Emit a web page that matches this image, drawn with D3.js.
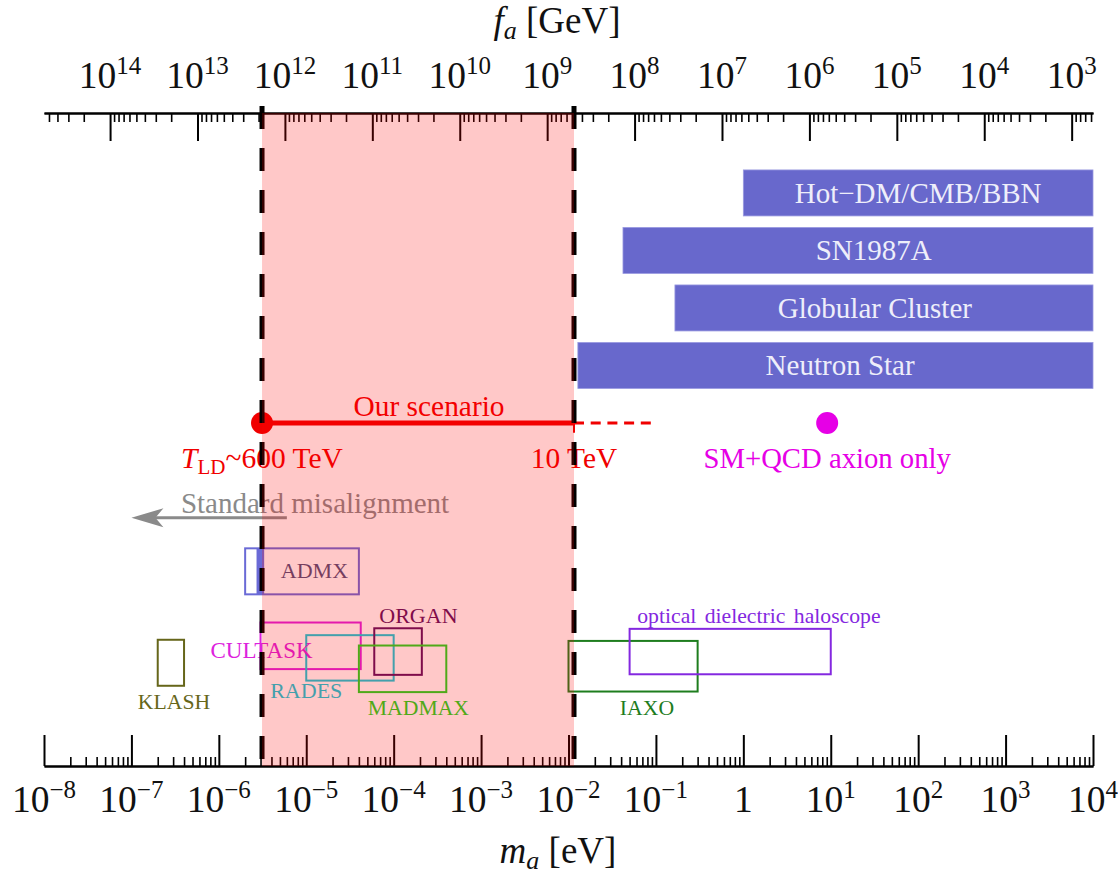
<!DOCTYPE html>
<html>
<head>
<meta charset="utf-8">
<script src="https://cdn.jsdelivr.net/npm/d3@7"></script>
<style>
  html, body { margin: 0; padding: 0; background: #fff; }
  svg { display: block; font-family: "Liberation Serif", "Times New Roman", serif; }
</style>
</head>
<body>
<svg id="chart" width="1118" height="876"></svg>
<script>
// ---- Axis data ----------------------------------------------------------
const massRange = [1e-8, 1e4];                 // m_a [eV]
const massTickExponents = d3.range(-8, 5);     // 10^-8 ... 10^4
const faTickExponents = d3.range(3, 15);       // 10^3 ... 10^14 GeV
const faConversion = 5.7e6;                    // f_a [GeV] = 5.7e6 / m_a [eV]
const rowRange = [0.035, 11.39];               // vertical layout rows

// ---- Our scenario ----------------------------------------------------------
const scenarioRange = [3.12e-6, 1.156e-2];     // T_LD ~ 600 TeV ... 10 TeV
const scenarioExtension = 0.1;                 // dashed continuation [eV]
const scenarioRow = 6;
const scenarioLabelMass = 2.54e-4;
const qcdOnlyMass = 9.1;                       // SM+QCD axion only
const misalignmentFrom = 6.0e-6;
const misalignmentTo = 1.0e-7;
const misalignmentRow = 4.35;
const misalignmentLabelMass = 1.26e-5;

// ---- Astrophysical / cosmological bounds (excluded above lower mass) ------
const boundNames = ["Hot\u2212DM/CMB/BBN", "SN1987A", "Globular Cluster", "Neutron Star"];
const boundLowerMass = [1.0, 0.042, 0.165, 0.0128];
const boundUpperMass = [1e4, 1e4, 1e4, 1e4];
const boundRow = [10, 9, 8, 7];
const boundLabelMass = [100, 31, 32, 12.8];

// ---- Experiments -------------------------------------------------------------
const expNames = ["ADMX", "CULTASK", "RADES", "ORGAN", "MADMAX", "KLASH", "IAXO", "optical dielectric haloscope"];
const expMassLow  = [2.0e-6, 3.0e-6, 1.0e-5, 6.0e-5, 4.0e-5, 2.0e-7, 1.0e-2, 0.05];
const expMassHigh = [4.0e-5, 4.2e-5, 1.0e-4, 2.1e-4, 4.0e-4, 4.0e-7, 0.30, 10];
const expRowLow   = [3.02, 1.72, 1.52, 1.62, 1.32, 1.43, 1.33, 1.63];
const expRowHigh  = [3.82, 2.53, 2.31, 2.43, 2.13, 2.23, 2.21, 2.42];
const expLabelMass = [1.24e-5, 3.08e-6, 1.0e-5, 1.92e-4, 1.92e-4, 3.07e-7, 0.079, 0.0612];
const expLabelRow  = [3.30, 1.91, 1.22, 2.52, 0.92, 1.03, 0.92, 2.52];
const admxExcluded = [2.7e-6, 3.3e-6];

// ---- Styling -------------------------------------------------------------
const expColors = ["#6a6ad6", "#dd22dd", "#10ccdc", "#5c1060", "#20d820", "#66661a", "#1e7d1e", "#8428e0"];
const expTextColors = ["#50507a", "#dd22dd", "#10ccdc", "#5c1060", "#20d820", "#66661a", "#1e7d1e", "#8428e0"];
const expFontSizes = [22, 23, 22, 22, 21.7, 21.7, 21.7, 21.7];
const expAnchors = ["middle", "middle", "middle", "middle", "middle", "middle", "middle", "start"];
const barColor = "#6868cc";
const barTextColor = "#eeeefa";
const scenarioColor = "#f00000";
const qcdColor = "#e600e6";

const plot = { left: 44, right: 1093, top: 113, bottom: 766 };
const svg = d3.select("#chart");

const x = d3.scaleLog().domain(massRange).range([plot.left, plot.right]);
const fa = d3.scaleLog().domain(massRange.map(m => faConversion / m)).range([plot.left, plot.right]);
const y = d3.scaleLinear().domain(rowRange).range([plot.bottom, plot.top]);

// minor tick values (2..9 x 10^n) inside a domain
function minorTicks(lo, hi) {
  const out = [];
  for (let e = Math.floor(Math.log10(lo)) - 1; e <= Math.ceil(Math.log10(hi)); e++) {
    for (let k = 2; k <= 9; k++) {
      const v = k * Math.pow(10, e);
      if (v >= lo * 0.9999 && v <= hi * 1.0001) out.push(v);
    }
  }
  return out;
}

function styleAxis(g, width) {
  g.selectAll("path.domain").attr("stroke", "#000").attr("stroke-width", 2);
  g.selectAll(".tick line").attr("stroke", "#000").attr("stroke-width", width);
  g.selectAll(".tick text").remove();
}

// ---- Bottom axis: m_a ----
const massAxisG = svg.append("g").attr("transform", `translate(0,${plot.bottom})`);
massAxisG.append("g")
  .call(d3.axisTop(x).tickValues(minorTicks(massRange[0], massRange[1])).tickSize(9).tickSizeOuter(0).tickFormat(""))
  .call(g => styleAxis(g, 1.6));
massAxisG.append("g")
  .call(d3.axisTop(x).tickValues(massTickExponents.map(e => Math.pow(10, e))).tickSize(31).tickSizeOuter(0).tickFormat(""))
  .call(g => styleAxis(g, 2));

// ---- Top axis: f_a ----
const faDomain = fa.domain();
const faAxisG = svg.append("g").attr("transform", `translate(0,${plot.top})`);
faAxisG.append("g")
  .call(d3.axisBottom(fa).tickValues(minorTicks(faDomain[1], faDomain[0])).tickSize(9).tickSizeOuter(0).tickFormat(""))
  .call(g => styleAxis(g, 1.6));
faAxisG.append("g")
  .call(d3.axisBottom(fa).tickValues(faTickExponents.map(e => Math.pow(10, e))).tickSize(28).tickSizeOuter(0).tickFormat(""))
  .call(g => styleAxis(g, 2));

// power-of-ten labels
function powerLabel(sel, exp) {
  if (exp === 0) { sel.append("tspan").text("1"); return; }
  sel.append("tspan").text("10");
  sel.append("tspan")
    .attr("font-size", 25)
    .attr("dy", -14)
    .text(String(exp).replace("-", "\u2212"));
}

svg.append("g").selectAll("text")
  .data(massTickExponents)
  .join("text")
  .attr("x", e => x(Math.pow(10, e)))
  .attr("y", 812)
  .attr("text-anchor", "middle")
  .attr("font-size", 37.5)
  .attr("fill", "#111")
  .each(function (e) { powerLabel(d3.select(this), e); });

svg.append("g").selectAll("text")
  .data(faTickExponents)
  .join("text")
  .attr("x", e => fa(Math.pow(10, e)))
  .attr("y", 88)
  .attr("text-anchor", "middle")
  .attr("font-size", 37.5)
  .attr("fill", "#111")
  .each(function (e) { powerLabel(d3.select(this), e); });

// axis titles
const faTitle = svg.append("text").attr("x", 557).attr("y", 33).attr("text-anchor", "middle")
  .attr("font-size", 37).attr("fill", "#111");
faTitle.append("tspan").attr("font-style", "italic").text("f");
faTitle.append("tspan").attr("font-style", "italic").attr("font-size", 26).attr("dy", 6).text("a");
faTitle.append("tspan").attr("dy", -6).text(" [GeV]");

const maTitle = svg.append("text").attr("x", 558).attr("y", 863).attr("text-anchor", "middle")
  .attr("font-size", 37).attr("fill", "#111");
maTitle.append("tspan").attr("font-style", "italic").text("m");
maTitle.append("tspan").attr("font-style", "italic").attr("font-size", 26).attr("dy", 6).text("a");
maTitle.append("tspan").attr("dy", -6).text(" [eV]");

// ---- Bounds bars ----
const bounds = boundNames.map((name, i) => ({
  name, lo: boundLowerMass[i], hi: boundUpperMass[i], row: boundRow[i], at: boundLabelMass[i]
}));
const barHalf = 0.4;
const barG = svg.append("g");
barG.selectAll("rect")
  .data(bounds)
  .join("rect")
  .attr("x", d => x(d.lo))
  .attr("width", d => x(d.hi) - x(d.lo))
  .attr("y", d => y(d.row + barHalf))
  .attr("height", d => y(d.row - barHalf) - y(d.row + barHalf))
  .attr("fill", barColor)
  .attr("stroke", "#9a9ae0")
  .attr("stroke-width", 0.8);
barG.selectAll("text")
  .data(bounds)
  .join("text")
  .attr("x", d => x(d.at))
  .attr("y", d => y(d.row))
  .attr("dy", "0.34em")
  .attr("text-anchor", "middle")
  .attr("font-size", 29)
  .attr("fill", barTextColor)
  .text(d => d.name);

// ---- Experiments ----
const experiments = expNames.map((name, i) => ({
  name, lo: expMassLow[i], hi: expMassHigh[i], rlo: expRowLow[i], rhi: expRowHigh[i],
  lm: expLabelMass[i], lr: expLabelRow[i], color: expColors[i], text: expTextColors[i],
  size: expFontSizes[i], anchor: expAnchors[i]
}));
const expG = svg.append("g");
expG.append("rect")
  .attr("x", x(admxExcluded[0]))
  .attr("width", x(admxExcluded[1]) - x(admxExcluded[0]))
  .attr("y", y(expRowHigh[0]))
  .attr("height", y(expRowLow[0]) - y(expRowHigh[0]))
  .attr("fill", expColors[0]);
expG.selectAll("rect.box")
  .data(experiments)
  .join("rect")
  .attr("class", "box")
  .attr("x", d => x(d.lo))
  .attr("width", d => x(d.hi) - x(d.lo))
  .attr("y", d => y(d.rhi))
  .attr("height", d => y(d.rlo) - y(d.rhi))
  .attr("fill", "none")
  .attr("stroke", d => d.color)
  .attr("stroke-width", 2);
expG.selectAll("text")
  .data(experiments)
  .join("text")
  .attr("x", d => x(d.lm))
  .attr("y", d => y(d.lr))
  .attr("text-anchor", d => d.anchor)
  .attr("font-size", d => d.size)
  .attr("word-spacing", d => d.anchor === "start" ? 3 : 0)
  .attr("fill", d => d.text)
  .text(d => d.name);

// ---- Standard misalignment ----
const misG = svg.append("g").attr("fill", "#8a8a8a").attr("stroke", "#8a8a8a");
misG.append("text")
  .attr("x", x(misalignmentLabelMass))
  .attr("y", y(4.43))
  .attr("text-anchor", "middle")
  .attr("font-size", 29)
  .attr("stroke", "none")
  .text("Standard misalignment");
const tipX = x(misalignmentTo), tipY = y(misalignmentRow);
misG.append("line")
  .attr("x1", x(misalignmentFrom)).attr("x2", tipX + 20)
  .attr("y1", tipY).attr("y2", tipY)
  .attr("stroke-width", 3);
misG.append("path")
  .attr("d", `M${tipX},${tipY} L${tipX + 32},${tipY - 9.5} L${tipX + 24},${tipY} L${tipX + 32},${tipY + 9.5} Z`)
  .attr("stroke", "none");

// ---- Our scenario ----
const scG = svg.append("g");
const sy = y(scenarioRow);
scG.append("line")
  .attr("x1", x(scenarioRange[1])).attr("x2", x(scenarioExtension))
  .attr("y1", sy).attr("y2", sy)
  .attr("stroke", scenarioColor).attr("stroke-width", 3)
  .attr("stroke-dasharray", "10,6.7");
scG.append("line")
  .attr("x1", x(scenarioRange[0])).attr("x2", x(scenarioRange[1]))
  .attr("y1", sy).attr("y2", sy)
  .attr("stroke", scenarioColor).attr("stroke-width", 5);
scG.append("line")
  .attr("x1", x(scenarioRange[1])).attr("x2", x(scenarioRange[1]))
  .attr("y1", y(scenarioRow + 0.17)).attr("y2", y(scenarioRow - 0.17))
  .attr("stroke", scenarioColor).attr("stroke-width", 2);
scG.append("circle")
  .attr("cx", x(scenarioRange[0])).attr("cy", sy).attr("r", 11)
  .attr("fill", scenarioColor);
scG.append("text")
  .attr("x", x(scenarioLabelMass))
  .attr("y", y(6.12))
  .attr("text-anchor", "middle").attr("font-size", 29.4).attr("fill", scenarioColor)
  .text("Our scenario");
const tld = scG.append("text")
  .attr("x", x(scenarioRange[0])).attr("y", y(5.22))
  .attr("text-anchor", "middle").attr("font-size", 29.5).attr("fill", scenarioColor);
tld.append("tspan").attr("font-style", "italic").text("T");
tld.append("tspan").attr("font-size", 21).attr("dy", 6).text("LD");
tld.append("tspan").attr("dy", -6).text("~600 TeV");
scG.append("text")
  .attr("x", x(scenarioRange[1])).attr("y", y(5.22))
  .attr("text-anchor", "middle").attr("font-size", 29.4).attr("fill", scenarioColor)
  .text("10 TeV");

// SM + QCD axion only
svg.append("circle")
  .attr("cx", x(qcdOnlyMass)).attr("cy", sy).attr("r", 11)
  .attr("fill", qcdColor);
svg.append("text")
  .attr("x", x(qcdOnlyMass)).attr("y", y(5.22))
  .attr("text-anchor", "middle").attr("font-size", 28.7).attr("fill", qcdColor)
  .text("SM+QCD axion only");

// ---- Boundaries of the scenario window ----
svg.append("g").selectAll("line")
  .data(scenarioRange)
  .join("line")
  .attr("x1", d => x(d)).attr("x2", d => x(d))
  .attr("y1", plot.top - 7).attr("y2", plot.bottom)
  .attr("stroke", "#000").attr("stroke-width", 5)
  .attr("stroke-dasharray", "23,19");

// translucent window shading
svg.append("rect")
  .attr("x", x(scenarioRange[0]))
  .attr("width", x(scenarioRange[1]) - x(scenarioRange[0]))
  .attr("y", plot.top)
  .attr("height", plot.bottom - plot.top)
  .attr("fill", "#ff0000")
  .attr("fill-opacity", 0.215);
</script>
</body>
</html>
